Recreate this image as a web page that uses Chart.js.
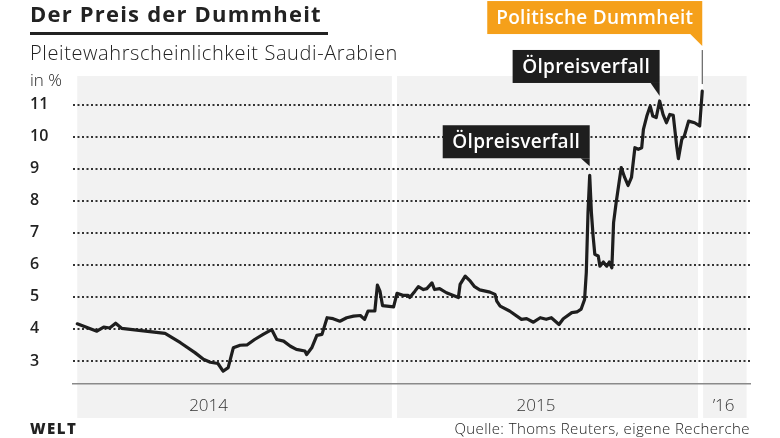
<!DOCTYPE html>
<html>
<head>
<meta charset="utf-8">
<script src="https://cdn.jsdelivr.net/npm/chart.js@4"></script>
<style>
  body { margin: 0; background: #fff; }
  #wrap { position: relative; width: 780px; height: 438px; font-family: "Open Sans", "Noto Sans", sans-serif; color: #222; overflow: hidden; }
  #wrap canvas { position: absolute; left: 0; top: 0; }
  .txt { position: absolute; white-space: nowrap; line-height: 1.2; }
  #title { left: 30px; top: 0px; font-size: 22px; font-weight: 700; letter-spacing: 1.2px; }
  #rule { position: absolute; left: 30px; top: 32px; width: 298px; height: 3px; background: #222; }
  #sub { left: 30px; top: 41px; font-size: 20px; font-weight: 300; letter-spacing: 0.6px; }
  #unit { left: 30px; top: 70px; font-size: 17px; font-weight: 300; }
  #logo { left: 30px; top: 419px; font-size: 15px; font-weight: 800; letter-spacing: 1.5px; }
  #src { right: 30px; top: 419px; font-size: 15px; font-weight: 300; letter-spacing: 0.4px; }
</style>
</head>
<body>
<div id="wrap">
  <canvas id="mychart" width="780" height="438"></canvas>
  <div class="txt" id="title">Der Preis der Dummheit</div>
  <div id="rule"></div>
  <div class="txt" id="sub">Pleitewahrscheinlichkeit Saudi-Arabien</div>
  <div class="txt" id="unit">in %</div>
  <div class="txt" id="logo">WELT</div>
  <div class="txt" id="src">Quelle: Thoms Reuters, eigene Recherche</div>
</div>
<script>
// days since 1 Jan 2014
let days = [0, 23, 31, 38, 45, 52, 103, 121, 138, 148, 156, 165, 171, 177, 183, 191, 199, 208, 218, 228,
  234, 242, 250, 257, 267, 269, 275, 281, 287, 293, 300, 308, 316, 324, 332, 337, 341, 349, 352, 355,
  358, 371, 375, 382, 388, 390, 396, 400, 406, 410, 416, 419, 425, 433, 447, 449, 455, 461, 466, 472,
  484, 490, 492, 496, 507, 521, 527, 535, 543, 550, 556, 565, 570, 580, 586, 591, 595, 597, 599, 601,
  603, 605, 607, 611, 613, 617, 621, 624, 627, 629, 632, 638, 642, 646, 650, 654, 658, 662, 664, 668,
  672, 675, 679, 683, 687, 691, 695, 699, 703, 705, 709, 712, 717, 724, 730, 733];
let risk = [4.16, 3.93, 4.06, 4.03, 4.18, 4.02, 3.86, 3.57, 3.26, 3.05, 2.96, 2.92, 2.68, 2.79, 3.41, 3.49, 3.50, 3.67, 3.83, 3.98,
  3.67, 3.62, 3.46, 3.36, 3.31, 3.20, 3.41, 3.80, 3.83, 4.35, 4.32, 4.24, 4.35, 4.40, 4.42, 4.30, 4.56, 4.56, 5.37, 5.18,
  4.73, 4.69, 5.11, 5.05, 5.05, 4.98, 5.18, 5.32, 5.23, 5.26, 5.44, 5.23, 5.26, 5.13, 4.98, 5.39, 5.65, 5.49, 5.32, 5.22,
  5.15, 5.08, 4.87, 4.71, 4.56, 4.30, 4.32, 4.21, 4.35, 4.30, 4.35, 4.14, 4.32, 4.51, 4.53, 4.62, 4.92, 5.76, 7.63, 8.80,
  7.63, 6.90, 6.33, 6.28, 5.96, 6.09, 5.96, 6.09, 5.91, 7.32, 7.94, 9.04, 8.73, 8.48, 8.73, 9.66, 9.61, 9.66, 10.23, 10.65,
  10.96, 10.65, 10.60, 11.12, 10.70, 10.44, 10.70, 10.67, 9.71, 9.32, 9.92, 10.03, 10.49, 10.44, 10.34, 11.43];

let yTicks = [3, 4, 5, 6, 7, 8, 9, 10, 11];
let yearLabels = ['2014', '2015', '\u201916'];
let yearTickDays = [154, 538, 758];
let yearBands = [[0, 369], [375, 728], [734, 785]];

// callouts: text, day, value of the point they point to
let notes = [
  { text: 'Ölpreisverfall', day: 601, val: 8.80, w: 147, color: '#1e1e1e', gap: 9, tailW: 9, tailH: 8 },
  { text: 'Ölpreisverfall', day: 683, val: 11.12, w: 147, color: '#1e1e1e', gap: 5, tailW: 9, tailH: 13 },
  { text: 'Politische Dummheit', day: 733, val: 11.43, w: 215, color: '#f5a01a', gap: 45, tailW: 12, tailH: 12, stem: true }
];

let points = days.map((d, i) => ({ x: d, y: risk[i] }));

let bands = {
  id: 'bands',
  beforeDraw(chart) {
    let c = chart.ctx, xs = chart.scales.x, a = chart.chartArea;
    c.save();
    c.fillStyle = '#f2f2f2';
    yearBands.forEach(b => {
      let x0 = xs.getPixelForValue(b[0]), x1 = xs.getPixelForValue(b[1]);
      c.fillRect(x0, a.top, x1 - x0, a.bottom - a.top + 34);
    });
    c.restore();
  }
};

let callouts = {
  id: 'callouts',
  afterDraw(chart) {
    let c = chart.ctx, xs = chart.scales.x, ys = chart.scales.y;
    c.save();
    notes.forEach(n => {
      let px = xs.getPixelForValue(n.day), py = ys.getPixelForValue(n.val);
      let tipY = py - n.gap;
      let bottom = tipY - n.tailH, h = 33;
      if (n.stem) {
        c.strokeStyle = '#444';
        c.lineWidth = 1;
        c.beginPath();
        c.moveTo(px, py - 7);
        c.lineTo(px, tipY + 4);
        c.stroke();
      }
      c.fillStyle = n.color;
      c.fillRect(px - n.w, bottom - h, n.w, h);
      c.beginPath();
      c.moveTo(px - n.tailW, bottom);
      c.lineTo(px, bottom);
      c.lineTo(px, tipY);
      c.closePath();
      c.fill();
      c.fillStyle = '#fff';
      c.font = '600 19px "Open Sans", "Noto Sans", sans-serif';
      c.letterSpacing = '0.3px';
      c.textAlign = 'center';
      c.textBaseline = 'middle';
      c.fillText(n.text, px - n.w / 2, bottom - h / 2 + 1);
    });
    c.restore();
  }
};

let ctx = document.querySelector('#mychart').getContext('2d');
let myChart = new Chart(ctx, {
  type: 'line',
  data: {
    datasets: [{
      data: points,
      borderColor: '#1e1e1e',
      borderWidth: 3.2,
      pointRadius: 0,
      tension: 0,
      borderJoinStyle: 'round',
      borderCapStyle: 'round'
    }]
  },
  options: {
    responsive: false,
    animation: false,
    layout: { padding: { top: 76, left: 30, right: 30, bottom: 0 } },
    plugins: { legend: { display: false }, tooltip: { enabled: false } },
    scales: {
      x: {
        type: 'linear',
        min: -5,
        max: 789,
        afterFit(s) { s.height = 54; },
        afterBuildTicks(s) { s.ticks = yearTickDays.map(v => ({ value: v })); },
        ticks: {
          padding: 12,
          color: '#333',
          font: { family: '"Open Sans"', size: 17, weight: 300 },
          callback: (v, i) => yearLabels[i]
        },
        grid: { color: 'transparent', drawTicks: false },
        border: { display: true, color: '#8a8a8a', width: 1.5 }
      },
      y: {
        min: 2.28,
        max: 11.9,
        afterFit(s) { s.width = 43; },
        afterBuildTicks(s) { s.ticks = yTicks.map(v => ({ value: v })); },
        ticks: {
          crossAlign: 'far',
          padding: 0,
          color: '#222',
          font: { family: '"Open Sans"', size: 16, weight: 600 }
        },
        grid: { color: '#333', lineWidth: 2, drawTicks: false },
        border: { display: false, dash: [2, 2.5] }
      }
    }
  },
  plugins: [bands, callouts]
});
</script>
</body>
</html>
